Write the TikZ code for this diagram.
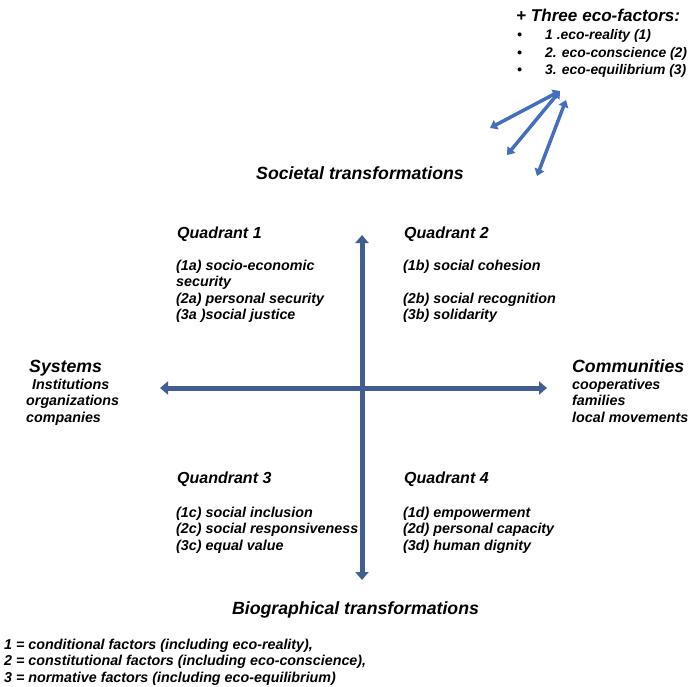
\documentclass[tikz,border=0pt]{standalone}
\usepackage{fontspec}
\setmainfont{Liberation Sans}
\usetikzlibrary{arrows.meta}
\definecolor{axisblue}{RGB}{64,94,143}
\definecolor{ecoblue}{RGB}{68,110,190}

\begin{document}
\begin{tikzpicture}[x=1pt,y=-1pt,
  txt/.style={inner sep=0pt,anchor=base west,align=left,font=\bfseries\itshape\fontsize{14.3}{16.5}\selectfont},
  quad/.style={txt,font=\bfseries\itshape\fontsize{16}{18}\selectfont},
  side/.style={txt,font=\bfseries\itshape\fontsize{17.7}{20}\selectfont},
  axis/.style={line width=5pt,axisblue,{Triangle[width=13pt,length=8pt]}-{Triangle[width=13pt,length=8pt]}},
  eco/.style={line width=3.5pt,ecoblue,{Triangle[width=10pt,length=7pt]}-{Triangle[width=10pt,length=7pt]}}]
\useasboundingbox (0,0) rectangle (692,686);

% eco-factors (multi-line nodes sit on their last baseline)
\node[side,font=\bfseries\itshape\fontsize{17.1}{20}\selectfont] (ecotitle) at (516,21) {+ Three eco-factors:};
\node[txt,font=\bfseries\itshape\fontsize{13.9}{17.5}\selectfont] (ecolist) at (517,74.5)
  {\makebox[28pt][l]{\textbullet}1 .eco-reality (1)\\
   \makebox[28pt][l]{\textbullet}2. eco-conscience (2)\\
   \makebox[28pt][l]{\textbullet}3. eco-equilibrium (3)};
\coordinate (ecoA) at (560,91);
\coordinate (ecoB) at (566,100);
\coordinate (endA) at (490,128);
\coordinate (endB) at (507,155);
\coordinate (endC) at (537,176);
\draw[eco] (ecoA)--(endA);
\draw[eco] (ecoA)--(endB);
\draw[eco] (ecoB)--(endC);

% axes
\coordinate (top) at (362,235);
\coordinate (bottom) at (362,580);
\coordinate (left) at (160,388);
\coordinate (right) at (547,388);
\draw[axis] (left)--(right);
\draw[axis] (bottom)--(top);

\node[side,anchor=base] (societal) at (360,179) {Societal transformations};
\node[side,anchor=base] (biographical) at (355.5,614) {Biographical transformations};

% quadrants
\node[quad] (q1) at (177,238) {Quadrant 1};
\node[txt] (q1items) at (176,319.5) {(1a) socio-economic\\security\\(2a) personal security\\(3a )social justice};
\node[quad] (q2) at (404,238) {Quadrant 2};
\node[txt] (q2items) at (403,319.5) {(1b) social cohesion\\[16.5pt](2b) social recognition\\(3b) solidarity};
\node[quad] (q3) at (177,483) {Quandrant 3};
\node[txt] (q3items) at (176,550) {(1c) social inclusion\\(2c) social responsiveness\\(3c) equal value};
\node[quad] (q4) at (404,483) {Quadrant 4};
\node[txt] (q4items) at (403,550) {(1d) empowerment\\(2d) personal capacity\\(3d) human dignity};

% sides
\node[side] (systems) at (29,372) {Systems};
\node[txt] (institutions) at (32,389) {Institutions};
\node[txt] (sysitems) at (26,422) {organizations\\companies};
\node[side] (communities) at (572,372) {Communities};
\node[txt] (comitems) at (572,422) {cooperatives\\families\\local movements};

% legend
\node[txt] (legend) at (4,682) {1 = conditional factors (including eco-reality),\\
  2 = constitutional factors (including eco-conscience),\\
  3 = normative factors (including eco-equilibrium)};
\end{tikzpicture}
\end{document}
